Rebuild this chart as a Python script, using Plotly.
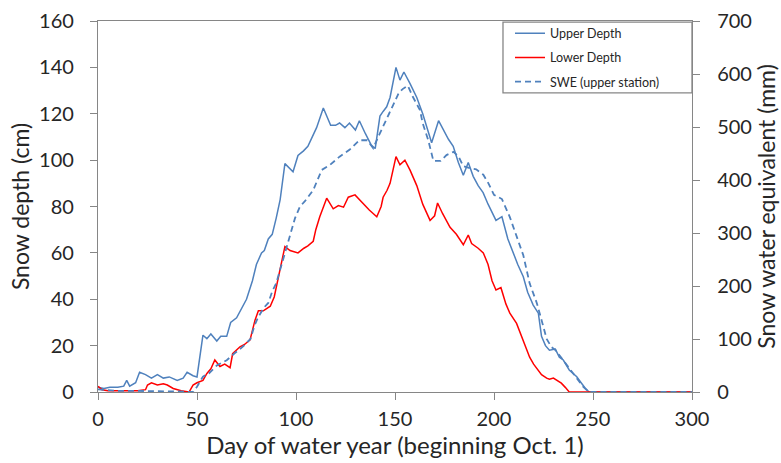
import plotly.graph_objects as go

# Upper station snow depth (cm) by day of water year
upper_day = [0, 3, 6, 10, 13, 14.5, 16, 19, 21, 24, 27, 30, 33, 36, 40, 43, 45, 48, 50,
             52, 53, 55, 57, 60, 62, 65, 67, 70, 72.5, 75, 78, 80, 82.6, 84, 86, 88, 90,
             92, 94.4, 96, 98.5, 101, 103.8, 106, 108, 110.4, 113.8, 116, 117.5, 120, 122,
             124.7, 127, 130, 132, 135, 138, 140, 142.4, 144, 145.8, 147.5, 150.5, 152.5,
             154.5, 157.6, 161, 164, 168.5, 172, 174.4, 177, 179.4, 182, 184.5, 187, 189.5,
             192, 194.5, 197, 201, 204, 207, 209.7, 212, 214.8, 217, 219.8, 222.4, 224,
             226, 228, 231, 233, 235, 238, 241.8, 244, 246, 248, 260, 280, 300]
upper_cm = [2, 1.5, 2, 2, 2.5, 5, 2.5, 4, 8.5, 7.5, 6, 7.5, 6, 6.5, 5, 6, 8.5, 7, 6.5,
            20, 24.5, 23, 25, 22, 24, 24, 30, 32, 36, 40, 48, 55, 60, 61, 66, 68, 75,
            83, 98.5, 97, 95, 102, 104, 106, 109.5, 114, 122.5, 118, 115, 115, 116,
            114, 116, 113, 117, 111.5, 106.5, 105, 119, 121, 123, 127, 140, 134.5,
            138, 133, 127, 120, 107.5, 117, 113, 109, 106, 99, 93.5, 99, 93,
            89, 86, 81, 74, 75.6, 66, 60, 55, 49.7, 43, 37.5, 34, 24,
            20, 18, 18.5, 15, 13.8, 9.5, 6.6, 4, 1.7, 0, 0, 0, 0]

# Lower station snow depth (cm)
lower_day = [0, 2, 5, 10, 15, 20, 24, 25, 27, 30, 33, 35, 38, 42, 46, 48, 50, 53, 55,
             57, 59, 61.6, 64, 66.7, 68, 70, 71.7, 74, 76.8, 79.3, 81, 83.5, 87, 89, 90,
             92, 94.4, 97, 101, 104, 106, 108.7, 110, 112, 113.8, 115.5, 118.8, 121.4,
             124, 126.4, 129.8, 132, 135, 137, 140.8, 143, 144, 146, 147.5, 150.5, 152.5,
             155, 157.6, 161, 164, 167.7, 170, 171.5, 174, 177.8, 181, 184.5, 187, 188.7,
             192, 194.6, 197, 199, 201, 203.5, 206, 208, 211.4, 214, 216, 218, 220,
             221.6, 224, 226.6, 228, 230, 232, 234, 236, 238, 260, 280, 300]
lower_cm = [2.5, 1, 0.5, 0.5, 0.5, 0.5, 1, 3, 4, 3, 3.5, 3, 1.5, 0.5, 0, 3, 4, 5, 8,
            10, 13.8, 11, 12, 10.5, 16.5, 18, 19.5, 20.5, 22.5, 31, 35, 35, 37, 41, 45,
            52, 62.7, 61, 60, 62, 63, 65, 70, 75.6, 80, 83.6, 79, 80.4,
            79.7, 84, 85, 83, 80, 78.5, 75.6, 80, 84, 87, 90, 101.5, 98,
            100, 95.7, 89, 81, 74, 76, 81.5, 77, 71, 68, 63.5, 67.7, 64,
            62, 60, 55, 48, 44, 45, 38, 34, 29.6, 24, 19, 15, 12,
            10, 7.5, 6, 5.5, 6, 5, 3.8, 2, 0, 0, 0, 0]

# Snow water equivalent at the upper station (mm)
swe_day = [0, 10, 20, 30, 40, 48, 50, 53, 56, 60, 65, 69, 73, 77, 79, 81, 84, 86, 88,
           90, 92, 94, 97, 99.5, 102, 104.5, 108.7, 111, 113, 117, 122, 127, 132, 136,
           139, 142, 144, 147, 149, 152, 154, 156.5, 159, 162.6, 164, 166.8, 169.4, 173,
           176, 179.5, 182, 184.5, 188, 191, 194.6, 197, 200, 204, 208, 211.4, 214.8,
           218, 221.6, 224, 226.6, 229, 231, 235, 238, 240, 243, 245, 248, 260, 280, 300]
swe_mm = [5, 2, 2, 2, 1, 0, 10, 29, 35, 50, 60, 73, 85, 100, 125, 142, 160, 168, 190,
          205, 230, 255, 293, 328, 350, 360, 381, 400, 419, 428, 444, 457, 475, 475,
          460, 485, 500, 525, 541, 565, 572, 578, 557, 532, 507, 475, 436, 436,
          447, 453, 445, 426, 422, 420, 410, 395, 372, 364, 330, 295, 258,
          205, 168, 136, 100, 85, 79, 60, 45, 35, 20, 10, 0, 0, 0, 0]

BLUE = "#4F81BD"
RED = "#FF0000"
AXIS = "#868686"
TEXT = "#262626"
FONT = "Lato, 'Open Sans', sans-serif"

fig = go.Figure()
fig.add_trace(go.Scatter(x=upper_day, y=upper_cm, name="Upper Depth", mode="lines",
                         line=dict(color=BLUE, width=1.5), legendgroup="a"))
fig.add_trace(go.Scatter(x=lower_day, y=lower_cm, name="Lower Depth", mode="lines",
                         line=dict(color=RED, width=1.5), legendgroup="b"))
fig.add_trace(go.Scatter(x=swe_day, y=swe_mm, name="SWE (upper station)", mode="lines",
                         line=dict(color=BLUE, width=1.8, dash="6px,4px"),
                         yaxis="y2", legendgroup="c"))

axis_common = dict(showline=True, linecolor=AXIS, linewidth=1.3, ticks="outside",
                   ticklen=7, tickcolor=AXIS, showgrid=False, zeroline=False,
                   automargin=False,
                   tickfont=dict(family=FONT, size=20, color=TEXT))
title_font = dict(family=FONT, size=23, color=TEXT)

fig.update_layout(
    width=781, height=463,
    margin=dict(l=98, r=89, t=21, b=71, autoexpand=False),
    paper_bgcolor="white", plot_bgcolor="white",
    font=dict(family=FONT, color=TEXT),
    xaxis=dict(range=[0, 300], dtick=50, mirror=True, ticklabelstandoff=2,
               title=dict(text="Day of water year (beginning Oct. 1)",
                          font=dict(family=FONT, size=24, color=TEXT), standoff=4),
               **axis_common),
    yaxis=dict(range=[0, 160], dtick=20, ticklabelstandoff=12,
               title=dict(text="Snow depth (cm)", font=title_font, standoff=2),
               **axis_common),
    yaxis2=dict(range=[0, 700], dtick=100, overlaying="y", side="right",
                ticklabelstandoff=13,
                title=dict(text="Snow water equivalent (mm)", font=title_font,
                           standoff=6),
                **axis_common),
    legend=dict(x=0.6936, xanchor="left", y=1.0065, yanchor="top",
                borderwidth=0, bgcolor="rgba(0,0,0,0)",
                font=dict(family=FONT, size=12.5, color=TEXT),
                tracegroupgap=5, itemwidth=30),
    shapes=[dict(type="rect", xref="paper", yref="paper",
                 x0=0.6818, x1=1.0, y0=0.806, y1=0.997,
                 line=dict(color=AXIS, width=1.3), fillcolor="white", layer="below")],
    showlegend=True,
)

fig.write_html("out.html")
